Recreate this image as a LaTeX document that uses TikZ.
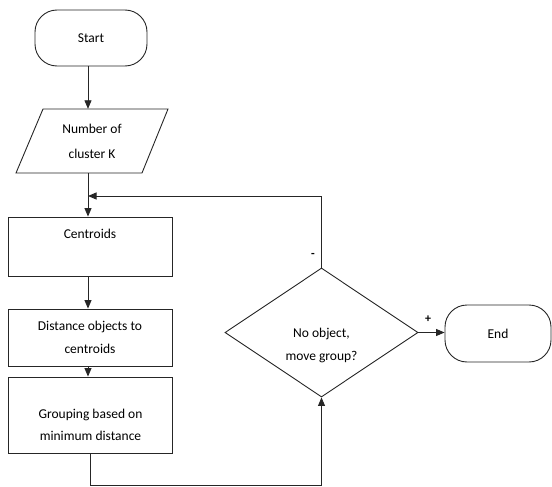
\documentclass[tikz,border=0pt]{standalone}
\usepackage{fontspec}
\setmainfont{Carlito}
\usetikzlibrary{shapes.geometric,arrows.meta}
\begin{document}
\begin{tikzpicture}[x=1pt,y=-1pt,
  every node/.style={font=\fontsize{13.5}{23}\selectfont, align=center, inner sep=0pt},
  ln/.style={line width=0.9pt, draw=black!85},
  arr/.style={ln, -{Triangle[length=8.5pt,width=7pt]}},
  term/.style={ln, rounded corners=22pt},
  boxst/.style={ln, rectangle, minimum width=164pt},
  sign/.style={font=\fontsize{12}{14}\selectfont\bfseries}]
\useasboundingbox (0,0) rectangle (552,487);
% terminals
\node[term, minimum width=112pt, minimum height=56pt] (start) at (91,38) {Start};
\node[term, minimum width=106pt, minimum height=57pt] (end) at (498,333.5) {End};
% parallelogram
\draw[ln] (43,109) -- (168,109) -- (142,173) -- (16,173) -- cycle;
\node[minimum height=64pt, minimum width=80pt] (num) at (92,141) {\raisebox{2pt}{Number of}\\cluster K};
% boxes
\node[boxst, minimum height=59pt] (cen) at (90,246.5) {Centroids\\[-4pt]\strut};
\node[boxst, minimum height=57pt] (dist) at (90,337.5) {Distance objects to\\centroids};
\node[boxst, minimum height=76pt] (grp) at (90.5,415) {\\[6pt]Grouping based on\\[-1pt]minimum distance};
% decision
\node[ln, diamond, minimum width=193pt, minimum height=129pt] (dia) at (321.5,332.5) {};
\node (dtxt) at (321.5,345) {No object,\\move group?};
% axis coordinates
\coordinate (ax) at (88,0);
\coordinate (loopy) at (0,196);
\coordinate (boty) at (0,485);
% connectors
\draw[arr] (start.south -| ax) -- (num.north -| ax);
\draw[arr] (num.south -| ax) -- (cen.north -| ax);
\draw[arr] (dia.north) -- (dia.north |- loopy) -- (ax |- loopy);
\draw[arr] (cen.south -| ax) -- (dist.north -| ax);
\draw[arr] (dist.south -| ax) -- (grp.north -| ax);
\draw[arr] (grp.south) -- (grp.south |- boty) -- (dia.south |- boty) -- (dia.south);
\draw[arr] (dia.east) -- (end.west |- dia.east);
% signs
\node[sign] (minus) at (313,255) {-};
\node[sign] (plus) at (428,319) {+};
\end{tikzpicture}
\end{document}
